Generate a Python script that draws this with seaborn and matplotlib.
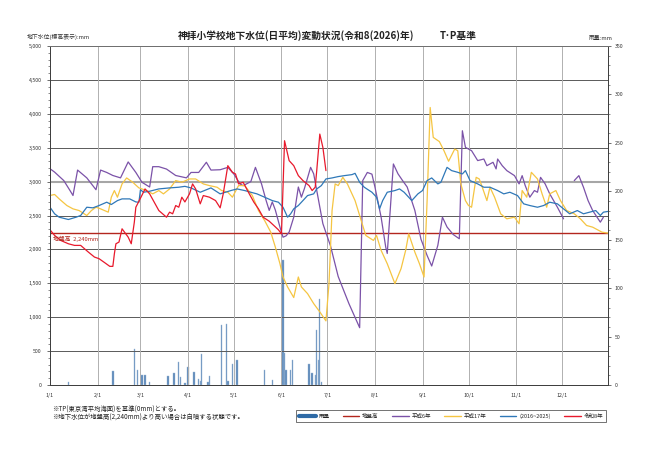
import numpy as np
import matplotlib
matplotlib.use("Agg")
import matplotlib.pyplot as plt
import seaborn as sns
from matplotlib.lines import Line2D
from matplotlib.ticker import MultipleLocator

# --- data (day of year, 0 = 1/1) ---
month_days = [0, 31, 59, 90, 120, 151, 181, 212, 243, 273, 304, 334]
month_labels = ["1/1", "2/1", "3/1", "4/1", "5/1", "6/1", "7/1", "8/1", "9/1", "10/1", "11/1", "12/1"]

ground_level = 2240

# 平成6年 (two pieces, missing data in early Dec)
h6_day = [0, 3, 9, 13, 15, 18, 24, 30, 33, 37, 41, 46, 51, 56, 60, 65, 67, 71, 76, 82,
          89, 92, 97, 102, 105, 111, 116, 120, 124, 126, 131, 134, 138, 141, 143, 145, 147, 150, 152, 154,
          156, 159, 162, 164, 166, 170, 172, 174, 178, 183, 188, 195, 202, 204, 207, 210, 212, 216, 219, 220,
          224, 227, 230, 233, 238, 242, 246, 249, 253, 256, 259, 263, 267, 269, 271, 275, 279, 283, 285, 289,
          291, 292, 295, 298, 303, 306, 308, 310, 313, 316, 318, 320, 323, 326, 331, 335]
h6_val = [3190, 3140, 3015, 2870, 2795, 3170, 3055, 2880, 3170, 3135, 3090, 3055, 3290, 3135, 2990, 2920, 3220, 3220, 3185, 3090,
          3055, 3135, 3135, 3285, 3170, 3175, 3210, 3110, 2965, 2940, 3000, 3210, 2965, 2720, 2575, 2700, 2580, 2330, 2180, 2200,
          2255, 2475, 2920, 2770, 2900, 3210, 3115, 2870, 2380, 2050, 1600, 1200, 845, 3015, 3135, 3110, 2917, 2475, 2034, 1940,
          3260, 3115, 3015, 2920, 2575, 2150, 1910, 1755, 2060, 2475, 2330, 2220, 2157, 3750, 3505, 3456, 3310, 3333, 3235, 3285,
          3187, 3333, 3235, 3162, 3088, 2966, 3088, 2941, 2770, 2868, 2843, 3063, 2966, 2819, 2622, 2451]
h6b_day = [342, 345, 348, 351, 354, 359, 361]
h6b_val = [3015, 3088, 2917, 2720, 2573, 2402, 2475]

# 平成17年
h17_day = [0, 3, 6, 11, 15, 19, 24, 27, 30, 33, 38, 40, 42, 44, 47, 50, 54, 58, 63, 67,
           71, 74, 78, 82, 86, 91, 95, 100, 104, 109, 112, 116, 119, 123, 127, 132, 136, 140, 144, 147,
           150, 152, 155, 159, 162, 164, 168, 172, 176, 180, 182, 184, 186, 188, 191, 194, 199, 203, 206, 211,
           213, 216, 220, 225, 229, 232, 234, 238, 241, 244, 246, 248, 250, 254, 257, 260, 264, 266, 268, 271,
           273, 275, 278, 280, 282, 285, 287, 290, 294, 298, 303, 306, 308, 311, 314, 318, 321, 324, 326, 330,
           333, 337, 342, 346, 350, 354, 360, 364]
h17_val = [2795, 2810, 2745, 2647, 2598, 2573, 2500, 2573, 2622, 2598, 2549, 2770, 2868, 2770, 2966, 3054, 2990, 2907, 2868, 2819,
           2868, 2819, 2892, 3015, 2990, 3039, 3039, 2966, 2941, 2917, 2868, 2843, 2770, 2941, 2941, 2794, 2573, 2426, 2255, 2034,
           1789, 1593, 1446, 1290, 1593, 1446, 1348, 1201, 1078, 946, 1495, 2573, 2966, 2941, 3063, 2966, 2720, 2426, 2206, 2132,
           2206, 1985, 1789, 1495, 1716, 1985, 2230, 1960, 1789, 1593, 2720, 4093, 3652, 3590, 3456, 3300, 3480, 3456, 2966, 2720,
           2647, 2622, 3063, 3039, 2917, 2720, 2917, 2770, 2525, 2451, 2475, 2378, 2868, 2770, 3137, 3039, 2819, 2622, 2819, 2868,
           2720, 2573, 2525, 2451, 2353, 2328, 2255, 2240]

# (2016~2025) 平均
avg_day = [0, 3, 6, 12, 17, 20, 24, 28, 32, 37, 40, 44, 47, 52, 56, 58, 59, 61, 65, 71,
           78, 84, 88, 92, 98, 105, 111, 118, 122, 127, 131, 135, 140, 145, 149, 152, 155, 157, 159, 162,
           165, 168, 172, 174, 177, 180, 184, 188, 192, 197, 199, 202, 205, 210, 213, 215, 217, 220, 225, 228,
           231, 236, 240, 243, 246, 249, 253, 255, 259, 262, 266, 269, 271, 274, 279, 283, 287, 292, 296, 300,
           305, 309, 313, 318, 322, 326, 331, 335, 339, 344, 348, 352, 356, 359, 361, 364]
avg_val = [2622, 2525, 2475, 2441, 2475, 2500, 2622, 2613, 2647, 2696, 2662, 2720, 2745, 2745, 2700, 2696, 2880, 2843, 2858, 2892,
           2907, 2917, 2930, 2907, 2843, 2907, 2819, 2868, 2892, 2868, 2843, 2819, 2770, 2720, 2696, 2622, 2475, 2525, 2598, 2647,
           2720, 2794, 2819, 2892, 2941, 3039, 3054, 3074, 3088, 3103, 3122, 2990, 2917, 2843, 2770, 2598, 2720, 2843, 2868, 2892,
           2843, 2720, 2819, 2868, 3015, 3054, 2966, 2990, 3210, 3162, 3137, 3113, 3162, 3015, 2966, 2917, 2917, 2868, 2819, 2843,
           2794, 2672, 2647, 2622, 2647, 2696, 2672, 2598, 2525, 2573, 2525, 2549, 2573, 2500, 2549, 2560]

# 令和8年
r8_day = [0, 3, 7, 12, 16, 20, 25, 29, 32, 36, 39, 41, 42, 43, 45, 47, 51, 53, 55, 56,
          58, 60, 62, 65, 68, 71, 76, 78, 80, 82, 84, 86, 88, 91, 93, 95, 98, 100, 104, 108,
          111, 113, 116, 119, 121, 123, 126, 130, 133, 136, 139, 143, 146, 149, 151, 153, 156, 159, 162, 165,
          169, 171, 173, 174, 176, 178, 180]
r8_val = [2289, 2206, 2132, 2083, 2059, 2059, 1961, 1887, 1863, 1799, 1750, 1750, 1936, 2083, 2108, 2304, 2181, 2083, 2400, 2622,
          2710, 2800, 2892, 2819, 2696, 2573, 2475, 2549, 2525, 2647, 2622, 2770, 2700, 2819, 2966, 2892, 2672, 2794, 2770, 2720,
          2613, 2819, 3235, 3137, 3113, 2966, 2990, 2819, 2696, 2598, 2475, 2416, 2353, 2289, 2230, 3603, 3309, 3235, 3088, 3015,
          2941, 2868, 2917, 3162, 3701, 3505, 3162]

# 雨量 (mm)
rain_day = [12, 41, 55, 57, 60, 62, 65, 77, 81, 84, 85, 88, 90, 94, 97, 98, 99, 103, 104, 112,
            115, 116, 119, 122, 140, 145, 152, 153, 154, 157, 158, 169, 171, 173, 174, 175, 176, 177]
rain_mm = [3, 14, 37, 15, 10, 10, 3, 9, 12, 24, 8, 2, 19, 13, 6, 4, 32, 3, 9, 62,
           63, 4, 22, 26, 16, 5, 129, 33, 15, 15, 26, 22, 12, 10, 57, 26, 89, 3]

c_rain = "#5b87b8"
c_ground = "#b3261e"
c_h6 = "#7b52a8"
c_h17 = "#f5c542"
c_avg = "#2f78b8"
c_r8 = "#e8192c"

sns.set_style("white")
plt.rcParams["font.family"] = ["Noto Sans CJK JP", "DejaVu Sans"]

fig = plt.figure(figsize=(6.5, 4.59), dpi=100)
ax = fig.add_axes([50 / 650, 74 / 459, 558 / 650, 339 / 459])
ax2 = ax.twinx()
ax.set_zorder(ax2.get_zorder() + 1)
ax.patch.set_visible(False)

# rainfall bars on right axis
ax2.bar(rain_day, rain_mm, width=0.9, color=c_rain, edgecolor="#9db8d6", linewidth=0.3)
ax2.set_ylim(0, 350)
ax2.yaxis.set_major_locator(MultipleLocator(50))
ax2.yaxis.set_minor_locator(MultipleLocator(10))
ax2.tick_params(axis="y", which="major", labelsize=3.8, length=2, width=0.5, colors="#333333", pad=3)
ax2.tick_params(axis="y", which="minor", length=1.2, width=0.4, colors="#333333")

# grid
for v in range(500, 5000, 500):
    if v == 3000:
        ax.axhline(v, color="#a6a6a6", lw=1.5, zorder=0)
    else:
        ax.axhline(v, color="#595959", lw=0.7, zorder=0)
for d in month_days[1:]:
    ax.axvline(d, color="#b0b0b0", lw=0.7, zorder=0)

ax.axhline(ground_level, color=c_ground, lw=1.0, zorder=2)

kw = dict(ax=ax, linewidth=0.9, estimator=None, sort=False, legend=False)
sns.lineplot(x=h6_day, y=h6_val, color=c_h6, **kw)
sns.lineplot(x=h6b_day, y=h6b_val, color=c_h6, **kw)
sns.lineplot(x=h17_day, y=h17_val, color=c_h17, **kw)
sns.lineplot(x=avg_day, y=avg_val, color=c_avg, **kw)
sns.lineplot(x=r8_day, y=r8_val, color=c_r8, **kw)

ax.set_xlim(0, 364)
ax.set_ylim(0, 5000)
ax.set_xticks(month_days)
ax.set_xticklabels(month_labels)
ax.yaxis.set_major_locator(MultipleLocator(500))
ax.yaxis.set_minor_locator(MultipleLocator(100))
ax.set_yticklabels([f"{int(v):,}" for v in ax.get_yticks()])
ax.tick_params(axis="both", which="major", labelsize=3.8, length=2, width=0.5, colors="#333333", pad=4)
ax.tick_params(axis="y", which="minor", length=1.2, width=0.4, colors="#333333")
ax.set_xlabel("")
ax.set_ylabel("")

for a in (ax, ax2):
    for s in ("left", "right", "bottom"):
        a.spines[s].set_color("#404040")
        a.spines[s].set_linewidth(0.7)
    a.spines["top"].set_color("#707070")
    a.spines["top"].set_linewidth(0.7)

ax.text(2, ground_level - 40, "地盤高  2,240mm", color=c_ground, fontsize=4.2, va="top", ha="left")

# titles and notes
fig.text(296 / 650, 1 - 36 / 459, "神拝小学校地下水位(日平均)変動状況(令和8(2026)年)",
         ha="center", va="center", fontsize=7, fontweight="bold", color="#222222")
fig.text(458 / 650, 1 - 36 / 459, "T･P基準", ha="center", va="center", fontsize=7,
         fontweight="bold", color="#222222")
fig.text(27 / 650, 1 - 37 / 459, "地下水位(標高表示):mm", ha="left", va="center", fontsize=4.2, color="#333333")
fig.text(589 / 650, 1 - 38 / 459, "雨量:mm", ha="left", va="center", fontsize=4.2, color="#333333")
fig.text(52 / 650, 1 - 410 / 459, "※TP(東京湾平均海面)を基準(0mm)とする。", ha="left", va="center",
         fontsize=4.6, color="#222222")
fig.text(52 / 650, 1 - 417.5 / 459, "※地下水位が地盤高(2,240mm)より高い場合は自噴する状態です。", ha="left",
         va="center", fontsize=4.6, color="#222222")

handles = [
    Line2D([], [], color="#2e6aa6", lw=3),
    Line2D([], [], color=c_ground, lw=1),
    Line2D([], [], color=c_h6, lw=1),
    Line2D([], [], color=c_h17, lw=1),
    Line2D([], [], color=c_avg, lw=1),
    Line2D([], [], color=c_r8, lw=1),
]
labels = ["雨量", "地盤高", "平成6年", "平成17年", "(2016~2025)", "令和8年"]
leg = fig.legend(handles, labels, loc="center", bbox_to_anchor=(451 / 650, 1 - 416 / 459), ncol=6,
                 fontsize=4, frameon=True, fancybox=False, edgecolor="#333333", handlelength=3,
                 columnspacing=2.4, handletextpad=0.5, borderpad=0.6)
leg.get_frame().set_linewidth(0.6)

fig.savefig("out.png", dpi=100)
